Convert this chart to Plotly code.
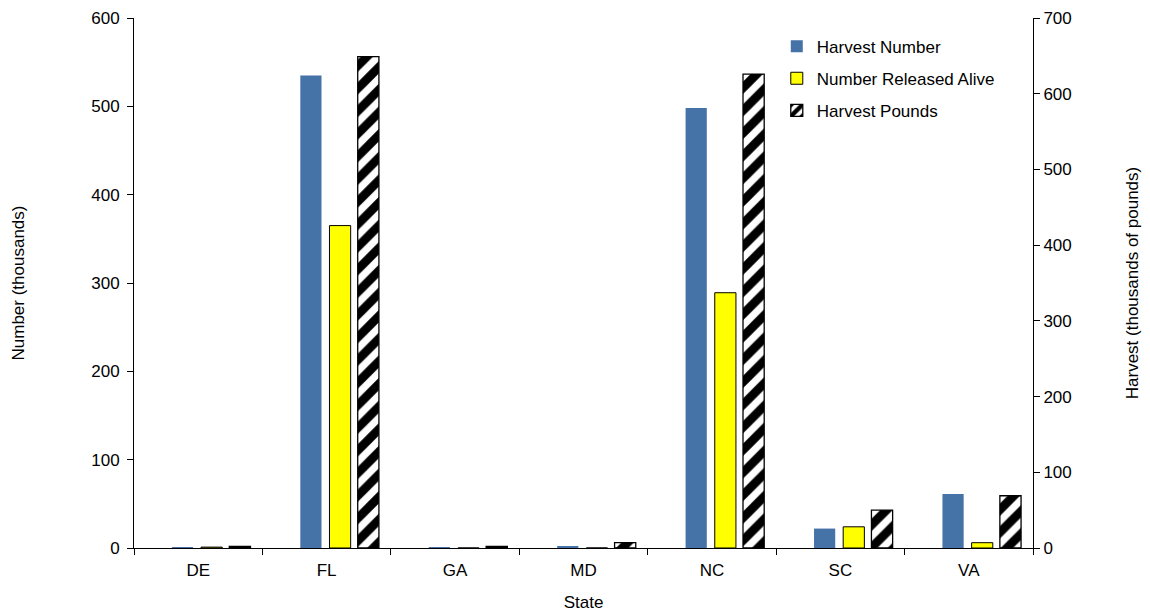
import plotly.graph_objects as go

states = ["DE", "FL", "GA", "MD", "NC", "SC", "VA"]
harvest_number = [0.3, 535, 0.3, 1.5, 498, 22, 61]
released_alive = [1, 365, 0, 0, 289, 24, 6]
harvest_pounds = [2, 649, 2, 7, 626, 50, 69]

FONT = "Liberation Sans, Arial, sans-serif"
W = 0.165

fig = go.Figure()
fig.add_trace(go.Bar(
    x=states, y=harvest_number, name="Harvest Number",
    marker=dict(color="#4572A7", line=dict(width=0)),
    width=W, offset=-0.205, yaxis="y", legendgroup="a",
))
fig.add_trace(go.Bar(
    x=states, y=released_alive, name="Number Released Alive",
    marker=dict(color="#FFFF00", line=dict(color="black", width=1)),
    width=W, offset=0.022, yaxis="y", legendgroup="b",
))
fig.add_trace(go.Bar(
    x=states, y=harvest_pounds, name="Harvest Pounds",
    marker=dict(color="white", line=dict(color="black", width=1.3),
                pattern=dict(shape="/", fgcolor="#000000", bgcolor="#ffffff",
                             fgopacity=1, size=16, solidity=0.55,
                             fillmode="replace")),
    width=W, offset=0.242, yaxis="y2", legendgroup="c",
))

fig.update_layout(
    width=1150, height=613,
    margin=dict(l=126, r=125, t=10, b=73),
    paper_bgcolor="white", plot_bgcolor="white",
    font=dict(family=FONT, size=17, color="black"),
    barmode="overlay",
    showlegend=True,
    legend=dict(x=0.715, y=0.98, xanchor="left", yanchor="top",
                font=dict(family=FONT, size=17, color="black"),
                bgcolor="rgba(0,0,0,0)", traceorder="grouped",
                tracegroupgap=7, itemwidth=30),
    xaxis=dict(
        type="category", showline=True, linecolor="black", linewidth=1,
        ticks="outside", ticklen=6, tickcolor="black", automargin=False,
        tickson="boundaries", showgrid=False, zeroline=False,
        tickfont=dict(family=FONT, size=17), ticklabelstandoff=7,
        title=dict(text="State", font=dict(family=FONT, size=17), standoff=16),
    ),
    yaxis=dict(
        range=[0, 600], dtick=100, showline=True, linecolor="black", linewidth=1,
        ticks="outside", ticklen=6, tickcolor="black", showgrid=False,
        zeroline=False, automargin=False,
        tickfont=dict(family=FONT, size=17), ticklabelstandoff=4,
        title=dict(text="Number (thousands)", font=dict(family=FONT, size=17), standoff=62),
    ),
    yaxis2=dict(
        range=[0, 700], dtick=100, overlaying="y", side="right",
        showline=True, linecolor="black", linewidth=1,
        ticks="outside", ticklen=6, tickcolor="black", showgrid=False,
        zeroline=False, automargin=False,
        tickfont=dict(family=FONT, size=17),
        title=dict(text="Harvest (thousands of pounds)", font=dict(family=FONT, size=17), standoff=55),
    ),
)

fig.write_html("out.html")
